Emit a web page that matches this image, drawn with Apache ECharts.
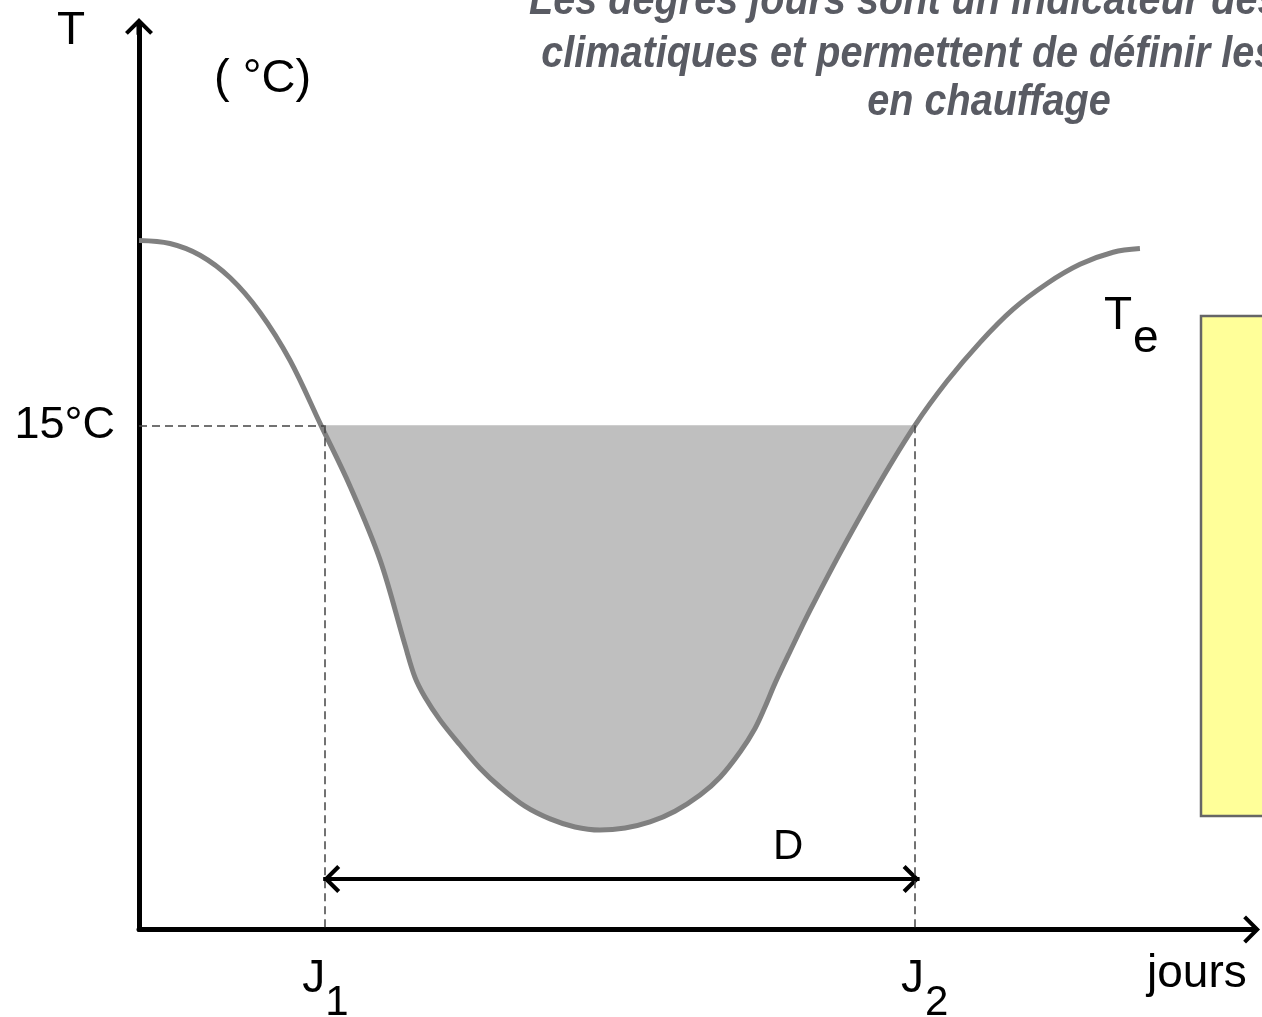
<!DOCTYPE html>
<html><head><meta charset="utf-8">
<script src="https://cdn.jsdelivr.net/npm/echarts@6/dist/echarts.min.js"></script>
<style>html,body{margin:0;padding:0;background:#fff}#c{width:1262px;height:1017px}</style>
</head><body><div id="c"></div>
<script>
// ---- data ----
const days  = [0, 11.3, 22.3, 33.3, 44.2, 55.2, 66.5, 77.1, 88.1, 97.2, 100.8, 104.5, 110.0, 117.3, 124.6, 131.9, 141.0, 150.2, 159.3, 168.4, 177.6, 186.7, 195.8, 205.0, 212.3, 219.6, 225.1, 228.7, 232.4, 237.9, 245.2, 258.0, 270.7, 283.5, 295.2, 307.3, 319.3, 331.8, 343.8, 355.9, 365.7];
const temps = [20.5, 20.41, 20.06, 19.39, 18.36, 16.93, 15.0, 13.19, 10.99, 8.46, 7.51, 6.91, 6.23, 5.49, 4.80, 4.24, 3.67, 3.29, 3.05, 2.96, 3.02, 3.20, 3.52, 4.00, 4.53, 5.28, 5.99, 6.62, 7.33, 8.28, 9.50, 11.48, 13.31, 15.0, 16.31, 17.47, 18.45, 19.22, 19.79, 20.15, 20.26];
const baseTemp = 15;
const dayJ1 = 67.7, dayJ2 = 283.5;
const arrowLevel = 1.5;
const arrowFrom = 67.3, arrowTo = 285.2;
const yTickLabel = '15°C';
const xLabels = [['J', '1'], ['J', '2']];
const titleLines = ['Les degrés jours sont un indicateur des rigueurs',
                    'climatiques et permettent de définir les besoins',
                    'en chauffage'];

const curve = days.map((d, i) => [d, temps[i]]);
const fillPts = curve.filter(p => p[1] <= baseTemp);

const FONT = '"Liberation Sans", Arial, Helvetica, sans-serif';
const upArrow = 'path://M14,0 L28,14 L25.17,16.83 L16.5,8.16 L16.5,16.83 L11.5,16.83 L11.5,8.16 L2.83,16.83 L0,14 Z';
const rightHead = 'path://M17,14 L3,0 L0,3 L11.2,14 L0,25 L3,28 Z';
const leftHead = 'path://M0,14 L14,0 L17,3 L5.8,14 L17,25 L14,28 Z';

const chart = echarts.init(document.getElementById('c'), null, {renderer: 'canvas'});
const axisLineStyle = {color: '#000', width: 5};
const option = {
  animation: false,
  backgroundColor: '#fff',
  grid: {left: 139, top: 26.4, right: 10.4, bottom: 87.5, containLabel: false},
  xAxis: {
    type: 'value', min: 0, max: 406.5,
    axisLine: {show: true, onZero: false, lineStyle: axisLineStyle, symbol: ['none', upArrow], symbolSize: [28, 17]},
    axisTick: {show: false}, axisLabel: {show: false}, splitLine: {show: false}
  },
  yAxis: {
    type: 'value', min: 0, max: 26.87, interval: 15,
    axisLine: {show: true, onZero: false, lineStyle: axisLineStyle, symbol: ['none', upArrow], symbolSize: [28, 17]},
    axisTick: {show: false}, splitLine: {show: false},
    axisLabel: {
      formatter: v => (v === baseTemp ? yTickLabel : ''),
      fontSize: 45, fontFamily: FONT, color: '#000', margin: 24, showMaxLabel: false
    }
  },
  series: [
    {
      type: 'line', data: fillPts, smooth: 0.35, symbol: 'none', silent: true, z: 1,
      lineStyle: {width: 0, opacity: 0},
      areaStyle: {color: '#bfbfbf', opacity: 1, origin: baseTemp}
    },
    {
      type: 'line', data: curve, smooth: 0.35, symbol: 'none', silent: true, z: 3,
      lineStyle: {color: '#808080', width: 5, cap: 'butt'},
      markLine: {
        silent: true, symbol: 'none', label: {show: false}, animation: false,
        lineStyle: {color: '#444', width: 1.5, type: [8, 5]},
        emphasis: {disabled: true},
        data: [
          [{coord: [0, baseTemp]}, {coord: [dayJ1, baseTemp]}],
          [{coord: [dayJ1, baseTemp]}, {coord: [dayJ1, 0]}],
          [{coord: [dayJ2, baseTemp]}, {coord: [dayJ2, 0]}]
        ]
      }
    },
    {
      type: 'scatter', data: [[arrowFrom, arrowLevel]], symbol: leftHead, symbolSize: [17, 28],
      symbolOffset: [8.5, 0], itemStyle: {color: '#000', opacity: 1}, silent: true, z: 4,
      markLine: {
        silent: true, symbol: 'none', label: {show: false}, animation: false,
        lineStyle: {color: '#000', width: 4, type: 'solid'},
        emphasis: {disabled: true},
        data: [[{coord: [arrowFrom, arrowLevel]}, {coord: [arrowTo, arrowLevel]}]]
      }
    },
    {
      type: 'scatter', data: [[arrowTo, arrowLevel]], symbol: rightHead, symbolSize: [17, 28],
      symbolOffset: [-8.5, 0], itemStyle: {color: '#000', opacity: 1}, silent: true, z: 4
    }
  ]
};
chart.setOption(option);

function txt(text, x, baseline, fs, extra) {
  return {
    type: 'text', x: x, y: baseline - 0.35 * fs, silent: true, z: 10,
    style: Object.assign({
      text: text, x: 0, y: 0, fill: '#000', font: fs + 'px ' + FONT,
      align: 'left', verticalAlign: 'middle', textAlign: 'left', textVerticalAlign: 'middle'
    }, extra || {})
  };
}
const px1 = chart.convertToPixel({gridIndex: 0}, [dayJ1, 0])[0];
const px2 = chart.convertToPixel({gridIndex: 0}, [dayJ2, 0])[0];

const titleFont = 'italic bold 44px "Liberation Sans", Arial, sans-serif';
const titleBase = [17, 70, 118];
const titleEls = titleLines.map((t, i) => {
  const el = txt(t, 989, titleBase[i], 44, {font: titleFont, fill: '#595b63', align: 'center', textAlign: 'center'});
  el.scaleX = 0.9;
  return el;
});

chart.setOption({
  graphic: [
    {type: 'rect', silent: true, z: 5, shape: {x: 1201, y: 316, width: 90, height: 500},
     style: {fill: '#ffff99', stroke: '#666666', lineWidth: 2.5}},
    txt('T', 57, 47, 46),
    txt('( °C)', 214, 95, 47),
    txt('T', 1104, 332, 46),
    txt('e', 1133, 355, 46),
    txt('D', 773, 862, 42),
    txt('jours', 1147, 990, 46),
    txt(xLabels[0][0], px1 - 22, 995, 46),
    txt(xLabels[0][1], px1 + 1, 1018, 42),
    txt(xLabels[1][0], px2 - 14, 995, 46),
    txt(xLabels[1][1], px2 + 10, 1018, 42)
  ].concat(titleEls)
});
</script></body></html>
